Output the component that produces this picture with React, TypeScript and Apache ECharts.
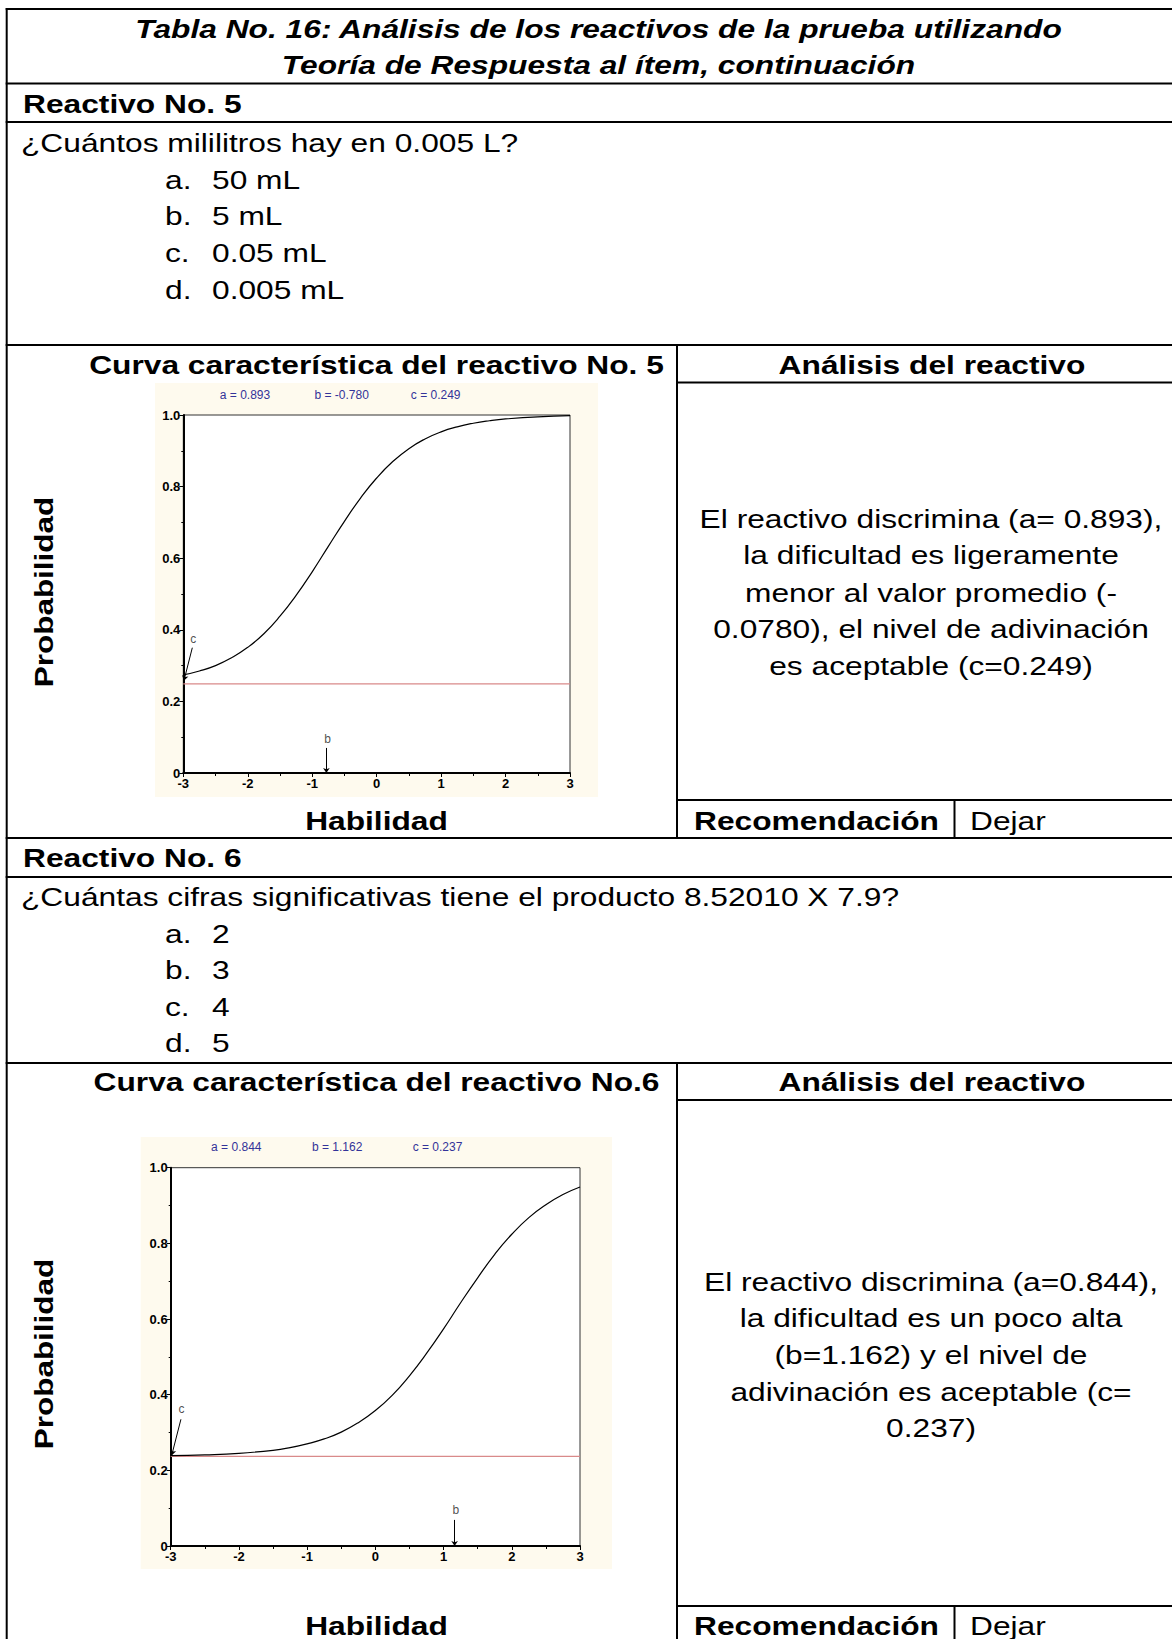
import React, { useEffect, useRef } from "react";
import * as echarts from "echarts";

const W = 1172;
const H = 1639;
const FONT = '"Liberation Sans", Arial, Helvetica, sans-serif';
const SX = 1.22;
const FS = 26;

// ---------- data ----------
const titleLines = [
  "Tabla No. 16: Análisis de los reactivos de la prueba utilizando",
  "Teoría de Respuesta al ítem, continuación",
];

const item5Title = "Reactivo No. 5";
const item5Question = "¿Cuántos mililitros hay en 0.005 L?";
const item5Letters = ["a.", "b.", "c.", "d."];
const item5Options = ["50 mL", "5 mL", "0.05 mL", "0.005 mL"];
const item5Curve = "Curva característica del reactivo No. 5";
const item5Analysis = [
  "El reactivo discrimina (a= 0.893),",
  "la dificultad es ligeramente",
  "menor al valor promedio (-",
  "0.0780), el nivel de adivinación",
  "es aceptable (c=0.249)",
];
const item5Params = ["a = 0.893", "b = -0.780", "c = 0.249"];
const item5Guess = 0.249;
const item5Theta = [-3, -2.75, -2.5, -2.25, -2, -1.75, -1.5, -1.25, -1, -0.75, -0.5, -0.25, 0, 0.25, 0.5, 0.75, 1, 1.25, 1.5, 1.75, 2, 2.5, 3];
const item5Prob = [0.274, 0.285, 0.3, 0.322, 0.351, 0.389, 0.438, 0.496, 0.562, 0.633, 0.703, 0.768, 0.824, 0.87, 0.906, 0.933, 0.953, 0.967, 0.977, 0.984, 0.989, 0.995, 0.998];
const item5CArrow = [[-2.86, 0.35], [-2.99, 0.258]];
const item5CLabel = [-2.845, 0.375];
const item5BArrow = [[-0.78, 0.07], [-0.78, 0.0]];
const item5BLabel = [-0.76, 0.096];

const item6Title = "Reactivo No. 6";
const item6Question = "¿Cuántas cifras significativas tiene el producto 8.52010 X 7.9?";
const item6Letters = ["a.", "b.", "c.", "d."];
const item6Options = ["2", "3", "4", "5"];
const item6Curve = "Curva característica del reactivo No.6";
const item6Analysis = [
  "El reactivo discrimina (a=0.844),",
  "la dificultad es un poco alta",
  "(b=1.162) y el nivel de",
  "adivinación es aceptable (c=",
  "0.237)",
];
const item6Params = ["a = 0.844", "b = 1.162", "c = 0.237"];
const item6Guess = 0.237;
const item6Theta = [-3, -2.5, -2, -1.5, -1.25, -1, -0.75, -0.5, -0.25, 0, 0.25, 0.5, 0.75, 1, 1.25, 1.5, 1.75, 2, 2.25, 2.5, 2.75, 3];
const item6Prob = [0.239, 0.241, 0.245, 0.253, 0.26, 0.27, 0.283, 0.301, 0.326, 0.358, 0.399, 0.45, 0.509, 0.574, 0.643, 0.709, 0.771, 0.824, 0.868, 0.902, 0.929, 0.949];
const item6CArrow = [[-2.85, 0.335], [-2.985, 0.24]];
const item6CLabel = [-2.84, 0.362];
const item6BArrow = [[1.162, 0.069], [1.162, 0.0]];
const item6BLabel = [1.18, 0.096];

const analysisHeader = "Análisis del reactivo";
const recLabel = "Recomendación";
const recValue = "Dejar";
const xName = "Habilidad";
const yName = "Probabilidad";
const yTickLabels = ["0", "0.2", "0.4", "0.6", "0.8", "1.0"];
const xTickLabels = ["-3", "-2", "-1", "0", "1", "2", "3"];

// ---------- helpers ----------
function txt(
  text: string,
  x: number,
  y: number,
  o: { bold?: boolean; italic?: boolean; align?: string; size?: number; sx?: number; rot?: number; color?: string } = {}
) {
  const size = o.size ?? FS;
  const font = `${o.italic ? "italic " : ""}${o.bold ? "bold " : ""}${size}px ${FONT}`;
  const el: any = {
    type: "text",
    x,
    y,
    scaleX: o.sx ?? SX,
    silent: true,
    style: {
      text,
      font,
      fill: o.color ?? "#000",
      textAlign: o.align ?? "left",
      textVerticalAlign: "middle",
    },
  };
  if (o.rot) el.rotation = o.rot;
  return el;
}

function hline(x1: number, x2: number, y: number) {
  return { type: "rect", silent: true, z: -5, shape: { x: x1, y, width: x2 - x1, height: 2 }, style: { fill: "#000" } };
}
function vline(x: number, y1: number, y2: number) {
  return { type: "rect", silent: true, z: -5, shape: { x, y: y1, width: 2, height: y2 - y1 }, style: { fill: "#000" } };
}

function xAxisCfg(gridIndex: number) {
  return {
    type: "value",
    gridIndex,
    min: -3,
    max: 3,
    interval: 1,
    axisLine: { show: true, onZero: false, lineStyle: { color: "#000", width: 2 } },
    axisTick: { show: true, length: 4, lineStyle: { color: "#000", width: 1 } },
    minorTick: { show: true, splitNumber: 2, length: 3, lineStyle: { color: "#000", width: 1 } },
    splitLine: { show: false },
    axisLabel: {
      color: "#000",
      fontWeight: "bold",
      fontSize: 13,
      fontFamily: FONT,
      margin: 4,
      formatter: (v: number) => xTickLabels[Math.round(v + 3)] ?? "",
    },
  };
}
function yAxisCfg(gridIndex: number) {
  return {
    type: "value",
    gridIndex,
    min: 0,
    max: 1,
    interval: 0.2,
    axisLine: { show: true, onZero: false, lineStyle: { color: "#000", width: 2 } },
    axisTick: { show: true, length: 4, lineStyle: { color: "#000", width: 1 } },
    minorTick: { show: true, splitNumber: 2, length: 2, lineStyle: { color: "#000", width: 1 } },
    splitLine: { show: false },
    axisLabel: {
      color: "#000",
      fontWeight: "bold",
      fontSize: 13,
      fontFamily: FONT,
      margin: 3,
      formatter: (v: number) => yTickLabels[Math.round(v / 0.2)] ?? "",
    },
  };
}

function seriesFor(idx: number, theta: number[], prob: number[], guess: number, cArrow: number[][], cLabel: number[], bArrow: number[][], bLabel: number[]) {
  const base = { xAxisIndex: idx, yAxisIndex: idx };
  return [
    {
      ...base,
      type: "line",
      data: [[-3, guess], [3, guess]],
      symbol: "none",
      lineStyle: { color: "#d98a8a", width: 1.2 },
      z: 2,
    },
    {
      ...base,
      type: "line",
      data: theta.map((t, i) => [t, prob[i]]),
      smooth: true,
      symbol: "none",
      lineStyle: { color: "#000", width: 1.2 },
      z: 3,
    },
    {
      ...base,
      type: "lines",
      coordinateSystem: "cartesian2d",
      symbol: ["none", "arrow"],
      symbolSize: 5,
      lineStyle: { color: "#000", width: 1, opacity: 1 },
      data: [{ coords: cArrow }, { coords: bArrow }],
      z: 4,
    },
    {
      ...base,
      type: "scatter",
      symbolSize: 1,
      itemStyle: { color: "rgba(0,0,0,0)" },
      label: {
        show: true,
        position: "inside",
        color: "#222",
        fontSize: 12,
        fontFamily: FONT,
        formatter: (p: any) => p.name,
      },
      data: [
        { name: "c", value: cLabel },
        { name: "b", value: bLabel },
      ],
      z: 4,
    },
  ];
}

function buildGraphics() {
  const g: any[] = [];
  // table lines
  const R = W + 10;
  g.push(hline(5.7, R, 8));
  g.push(hline(5.7, R, 82.5));
  g.push(hline(5.7, R, 121));
  g.push(hline(5.7, R, 344));
  g.push(hline(676, R, 381.5));
  g.push(hline(676, R, 799));
  g.push(hline(5.7, R, 837));
  g.push(hline(5.7, R, 876));
  g.push(hline(5.7, R, 1062));
  g.push(hline(676, R, 1099));
  g.push(hline(676, R, 1605));
  g.push(vline(5.7, 8, H));
  g.push(vline(676, 344, 839));
  g.push(vline(676, 1062, H));
  g.push(vline(953.5, 799, 839));
  g.push(vline(953.5, 1605, H));

  // chart backgrounds
  g.push({ type: "rect", silent: true, z: -6, shape: { x: 155, y: 383, width: 443, height: 414 }, style: { fill: "#fefaee" } });
  g.push({ type: "rect", silent: true, z: -6, shape: { x: 140.7, y: 1137, width: 471.3, height: 432 }, style: { fill: "#fefaee" } });

  // title
  g.push(txt(titleLines[0], 598.5, 29, { bold: true, italic: true, align: "center" }));
  g.push(txt(titleLines[1], 598.5, 65.5, { bold: true, italic: true, align: "center" }));

  // item 5
  g.push(txt(item5Title, 23, 104, { bold: true }));
  g.push(txt(item5Question, 21, 143));
  const opt5Y = [180, 216.4, 253, 289.6];
  item5Letters.forEach((l, i) => {
    g.push(txt(l, 165, opt5Y[i]));
    g.push(txt(item5Options[i], 212, opt5Y[i]));
  });
  g.push(txt(item5Curve, 376.5, 365, { bold: true, align: "center" }));
  g.push(txt(analysisHeader, 932, 365, { bold: true, align: "center" }));
  const an5Y = [518.6, 555.2, 592.8, 629.4, 666];
  item5Analysis.forEach((l, i) => g.push(txt(l, 931, an5Y[i], { align: "center" })));
  g.push(txt(yName, 44.5, 592, { bold: true, align: "center", rot: Math.PI / 2, sx: 1.26, size: 25 }));
  g.push(txt(xName, 376.5, 821, { bold: true, align: "center" }));
  g.push(txt(recLabel, 694, 821, { bold: true }));
  g.push(txt(recValue, 970, 821));
  const p5X = [245, 341.7, 435.7];
  item5Params.forEach((p, i) => g.push(txt(p, p5X[i], 395, { size: 12, sx: 1, align: "center", color: "#333399" })));

  // item 6
  g.push(txt(item6Title, 23, 858.4, { bold: true }));
  g.push(txt(item6Question, 21, 897));
  const opt6Y = [933.6, 970.2, 1006.8, 1043.4];
  item6Letters.forEach((l, i) => {
    g.push(txt(l, 165, opt6Y[i]));
    g.push(txt(item6Options[i], 212, opt6Y[i]));
  });
  g.push(txt(item6Curve, 376.5, 1082, { bold: true, align: "center" }));
  g.push(txt(analysisHeader, 932, 1082, { bold: true, align: "center" }));
  const an6Y = [1281.8, 1318.4, 1355, 1391.6, 1428.2];
  item6Analysis.forEach((l, i) => g.push(txt(l, 931, an6Y[i], { align: "center" })));
  g.push(txt(yName, 44.5, 1354, { bold: true, align: "center", rot: Math.PI / 2, sx: 1.26, size: 25 }));
  g.push(txt(xName, 376.5, 1626, { bold: true, align: "center" }));
  g.push(txt(recLabel, 694, 1626, { bold: true }));
  g.push(txt(recValue, 970, 1626));
  const p6X = [236.3, 337.2, 437.5];
  item6Params.forEach((p, i) => g.push(txt(p, p6X[i], 1146.7, { size: 12, sx: 1, align: "center", color: "#333399" })));

  return g;
}

export default function App() {
  const ref = useRef<HTMLDivElement>(null);
  useEffect(() => {
    if (!ref.current) return;
    const chart = echarts.init(ref.current, undefined, { renderer: "svg", width: W, height: H });
    const gridBase = { show: true, backgroundColor: "#ffffff", borderColor: "#333", borderWidth: 1, containLabel: false };
    chart.setOption({
      animation: false,
      backgroundColor: "#ffffff",
      grid: [
        { ...gridBase, left: 183.3, top: 415, width: 386.7, height: 358 },
        { ...gridBase, left: 170.7, top: 1167.7, width: 409.3, height: 378.3 },
      ],
      xAxis: [xAxisCfg(0), xAxisCfg(1)],
      yAxis: [yAxisCfg(0), yAxisCfg(1)],
      series: [
        ...seriesFor(0, item5Theta, item5Prob, item5Guess, item5CArrow, item5CLabel, item5BArrow, item5BLabel),
        ...seriesFor(1, item6Theta, item6Prob, item6Guess, item6CArrow, item6CLabel, item6BArrow, item6BLabel),
      ],
      graphic: { elements: buildGraphics() },
    });
    return () => chart.dispose();
  }, []);
  return (
    <div
      ref={ref}
      style={{ position: "absolute", left: 0, top: 0, width: W, height: H, background: "#fff", overflow: "hidden" }}
    />
  );
}
